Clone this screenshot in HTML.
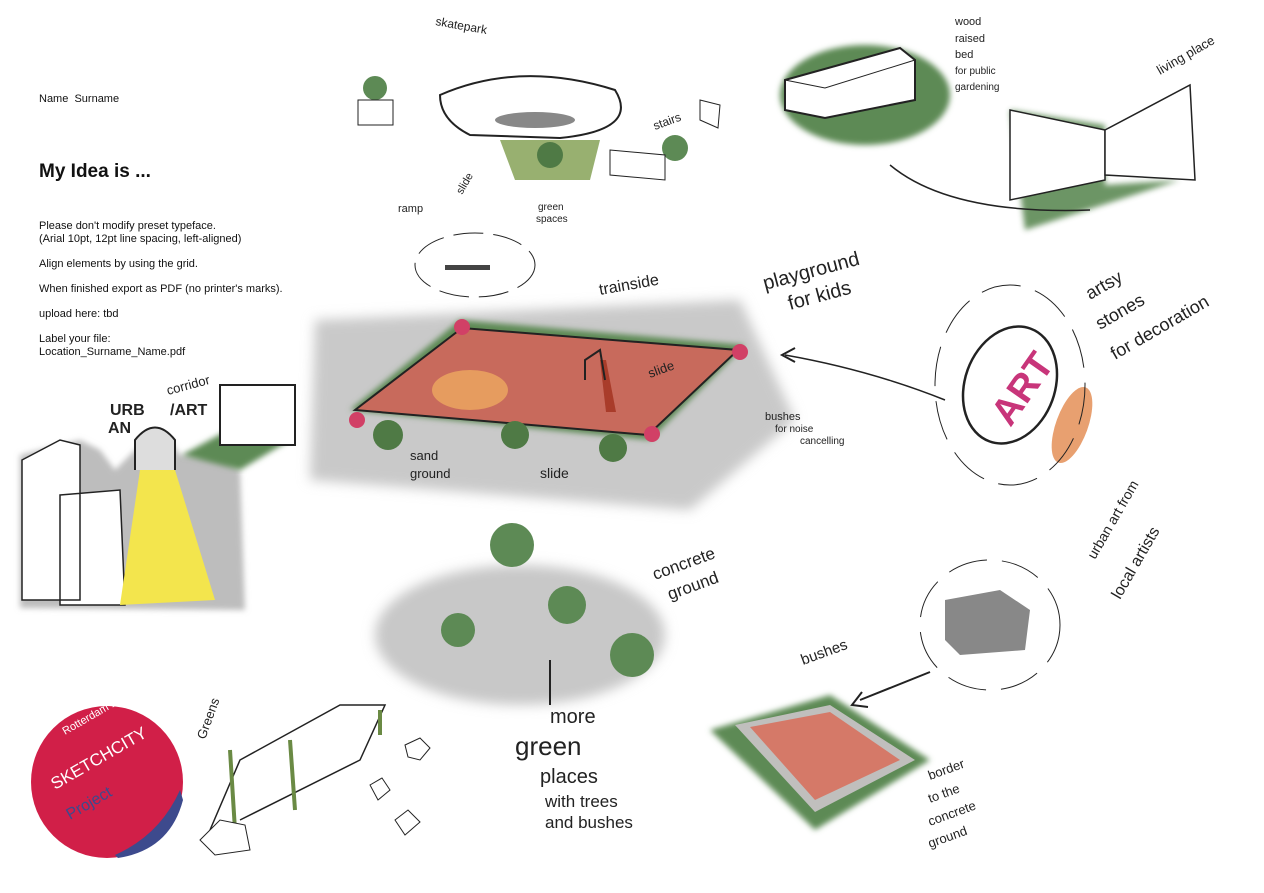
<!DOCTYPE html>
<html><head><meta charset="utf-8"><style>
body{margin:0;background:#fff;width:1264px;height:893px;overflow:hidden;font-family:"Liberation Sans",Arial,sans-serif}
.t{position:absolute;left:39px;font-size:11px;line-height:13px;color:#111}
svg{position:absolute;left:0;top:0}
svg text{font-family:"Liberation Sans",sans-serif;fill:#222}
</style></head><body>
<svg width="1264" height="893" viewBox="0 0 1264 893">
<defs>
<filter id="b"><feGaussianBlur stdDeviation="6"/></filter>
<filter id="b2"><feGaussianBlur stdDeviation="3"/></filter>
</defs>
<!-- concrete main -->
<path d="M315 320 L740 300 L795 420 L690 510 L310 480 Z" fill="#c9c9c9" filter="url(#b)"/>
<path d="M350 410 L460 320 L745 345 L650 440 Z" fill="#5d8a55" filter="url(#b2)"/>
<path d="M355 410 L462 328 L738 350 L648 435 Z" fill="#c86a5c" stroke="#222" stroke-width="2"/>
<ellipse cx="470" cy="390" rx="38" ry="20" fill="#e69c5f"/>
<path d="M600 360 L606 412 L616 412 L606 360Z" fill="#a93c2a"/>
<path d="M585 380 L585 360 L600 350 L605 380" fill="none" stroke="#222" stroke-width="2"/>
<circle cx="462" cy="327" r="8" fill="#d14066"/><circle cx="740" cy="352" r="8" fill="#d14066"/>
<circle cx="652" cy="434" r="8" fill="#d14066"/><circle cx="357" cy="420" r="8" fill="#d14066"/>
<g fill="#4f7a45"><circle cx="388" cy="435" r="15"/><circle cx="515" cy="435" r="14"/><circle cx="613" cy="448" r="14"/></g>
<!-- lower grey -->
<ellipse cx="520" cy="635" rx="145" ry="70" fill="#c8c8c8" filter="url(#b)"/>
<g fill="#5d8a55"><circle cx="512" cy="545" r="22"/><circle cx="458" cy="630" r="17"/><circle cx="567" cy="605" r="19"/><circle cx="632" cy="655" r="22"/></g>
<!-- left street -->
<path d="M20 455 L80 440 L100 450 L115 470 L135 450 L170 440 L180 455 L220 455 L240 470 L245 610 L20 608 Z" fill="#bdbdbd" filter="url(#b2)"/>
<path d="M22 460 L60 440 L80 445 L80 600 L22 600Z M60 495 L120 490 L125 605 L60 605Z" fill="#fff" stroke="#222" stroke-width="1.5"/>
<path d="M140 470 L175 470 L215 600 L120 605 Z" fill="#f3e54d"/>
<path d="M182 455 L228 430 L290 440 L240 470Z" fill="#5d8a55" filter="url(#b2)"/>
<rect x="220" y="385" width="75" height="60" fill="#fff" stroke="#222" stroke-width="2"/>
<path d="M135 470 L135 440 Q155 415 175 440 L175 470" fill="#ddd" stroke="#222" stroke-width="2"/>
<text x="110" y="415" font-size="16" font-weight="bold">URB</text><text x="108" y="433" font-size="16" font-weight="bold">AN</text>
<text x="170" y="415" font-size="16" font-weight="bold">/ART</text>
<text x="168" y="395" font-size="13" transform="rotate(-15 168 395)">corridor</text>
<!-- skatepark -->
<path d="M440 95 Q520 60 615 90 Q640 130 560 138 L470 135 Q440 120 440 95Z" fill="#fff" stroke="#222" stroke-width="2"/>
<ellipse cx="535" cy="120" rx="40" ry="8" fill="#888"/>
<path d="M500 140 L600 140 L590 180 L515 180Z" fill="#98b070"/>
<circle cx="550" cy="155" r="13" fill="#4f7a45"/>
<circle cx="375" cy="88" r="12" fill="#5d8a55"/><circle cx="675" cy="148" r="13" fill="#5d8a55"/>
<rect x="358" y="100" width="35" height="25" fill="#fff" stroke="#222"/>
<path d="M610 150 L665 155 L665 180 L610 175Z" fill="#fff" stroke="#222"/>
<path d="M700 100 L720 105 L718 128 L700 120Z" fill="#fff" stroke="#222"/>
<ellipse cx="475" cy="265" rx="60" ry="32" fill="none" stroke="#222" stroke-dasharray="30 10"/>
<rect x="445" y="265" width="45" height="5" fill="#444"/>
<text x="435" y="25" font-size="12" transform="rotate(10 435 25)">skatepark</text>
<text x="398" y="212" font-size="11">ramp</text><text x="462" y="195" font-size="11" transform="rotate(-60 462 195)">slide</text>
<text x="538" y="210" font-size="10">green</text><text x="536" y="222" font-size="10">spaces</text>
<text x="655" y="130" font-size="12" transform="rotate(-20 655 130)">stairs</text>
<!-- wood bed -->
<ellipse cx="865" cy="95" rx="85" ry="50" fill="#5d8a55" filter="url(#b2)"/>
<path d="M785 80 L900 48 L915 60 L915 100 L825 118 L785 110Z" fill="#fff" stroke="#222" stroke-width="2"/>
<path d="M785 80 L825 88 L915 60" fill="none" stroke="#222"/>
<text x="955" y="25" font-size="11">wood</text><text x="955" y="42" font-size="11">raised</text><text x="955" y="58" font-size="11">bed</text><text x="955" y="74" font-size="10">for public</text><text x="955" y="90" font-size="10">gardening</text>
<!-- living place -->
<path d="M1010 110 L1105 125 L1105 185 L1180 180 L1025 230Z" fill="#5d8a55" filter="url(#b2)" opacity=".9"/>
<path d="M1010 110 L1105 130 L1105 180 L1010 200Z" fill="#fff" stroke="#222" stroke-width="1.5"/>
<path d="M1105 130 L1190 85 L1195 180 L1105 175Z" fill="#fff" stroke="#222" stroke-width="1.5"/>
<text x="1160" y="75" font-size="13" transform="rotate(-30 1160 75)">living place</text>
<path d="M890 165 Q950 215 1090 210" fill="none" stroke="#222" stroke-width="1.5"/>
<!-- ART -->
<ellipse cx="1010" cy="385" rx="45" ry="60" fill="#fff" stroke="#222" stroke-width="2.5" transform="rotate(20 1010 385)"/>
<text x="975" y="410" font-size="38" font-weight="bold" fill="#c8357a" transform="rotate(-55 1010 385)" style="fill:#c8357a">ART</text>
<ellipse cx="1072" cy="425" rx="16" ry="40" fill="#e8a070" transform="rotate(20 1072 425)"/>
<ellipse cx="1010" cy="385" rx="75" ry="100" fill="none" stroke="#222" stroke-dasharray="40 15"/>
<text x="1090" y="300" font-size="18" transform="rotate(-30 1090 300)">artsy</text>
<text x="1100" y="330" font-size="18" transform="rotate(-30 1100 330)">stones</text>
<text x="1115" y="360" font-size="18" transform="rotate(-30 1115 360)">for decoration</text>
<path d="M945 400 Q870 370 785 355" fill="none" stroke="#222" stroke-width="1.5"/><path d="M795 348 L782 355 L795 362" fill="none" stroke="#222" stroke-width="2"/>
<!-- small ART box -->
<ellipse cx="990" cy="625" rx="70" ry="65" fill="none" stroke="#222" stroke-dasharray="40 15"/>
<path d="M945 600 L1000 590 L1030 610 L1025 650 L960 655 L945 640Z" fill="#888"/>
<text x="1095" y="560" font-size="14" transform="rotate(-60 1095 560)">urban art from</text>
<text x="1120" y="600" font-size="16" transform="rotate(-60 1120 600)">local artists</text>
<!-- bushes field -->
<path d="M710 730 L830 695 L930 760 L815 830Z" fill="#5d8a55" filter="url(#b2)"/>
<path d="M735 725 L830 705 L915 760 L815 812Z" fill="#c0bfbd"/>
<path d="M750 727 L830 712 L900 760 L815 800Z" fill="#d57968"/>
<path d="M930 672 L860 700" stroke="#222" stroke-width="2"/><path d="M862 692 L852 705 L868 707" fill="none" stroke="#222" stroke-width="2"/>
<text x="803" y="665" font-size="15" transform="rotate(-20 803 665)">bushes</text>
<text x="930" y="780" font-size="13" transform="rotate(-20 930 780)">border</text>
<text x="930" y="803" font-size="13" transform="rotate(-20 930 803)">to the</text>
<text x="930" y="826" font-size="13" transform="rotate(-20 930 826)">concrete</text>
<text x="930" y="848" font-size="13" transform="rotate(-20 930 848)">ground</text>
<!-- labels -->
<text x="600" y="295" font-size="16" transform="rotate(-10 600 295)">trainside</text>
<text x="765" y="290" font-size="20" transform="rotate(-15 765 290)">playground</text>
<text x="790" y="310" font-size="20" transform="rotate(-15 790 310)">for kids</text>
<text x="650" y="378" font-size="13" transform="rotate(-20 650 378)">slide</text>
<text x="765" y="420" font-size="11">bushes</text><text x="775" y="432" font-size="10">for noise</text><text x="800" y="444" font-size="10">cancelling</text>
<text x="410" y="460" font-size="13">sand</text><text x="410" y="478" font-size="13">ground</text>
<text x="540" y="478" font-size="14">slide</text>
<text x="655" y="580" font-size="17" transform="rotate(-20 655 580)">concrete</text>
<text x="670" y="600" font-size="17" transform="rotate(-20 670 600)">ground</text>
<text x="550" y="723" font-size="20">more</text><text x="515" y="755" font-size="26">green</text>
<text x="540" y="783" font-size="20">places</text><text x="545" y="807" font-size="17">with trees</text><text x="545" y="828" font-size="17">and bushes</text>
<path d="M550 660 L550 705" stroke="#222" stroke-width="2"/>
<!-- greens pergola -->
<path d="M210 830 L240 760 L340 705 L385 705 L360 760 L240 820" fill="none" stroke="#222" stroke-width="1.5"/>
<path d="M230 750 L235 830 M290 740 L295 810 M380 710 L380 735" stroke="#6a8a44" stroke-width="4"/>
<path d="M200 840 L220 820 L245 825 L250 850 L215 855Z" fill="#fff" stroke="#222"/>
<text x="205" y="740" font-size="13" transform="rotate(-70 205 740)">Greens</text>
<path d="M405 745 L420 738 L430 748 L420 760 L408 757Z M370 785 L382 778 L390 790 L378 800Z M395 820 L408 810 L420 822 L405 835Z" fill="#fff" stroke="#222"/>
<!-- sticker -->
<circle cx="107" cy="782" r="76" fill="#d11f48"/>
<path d="M115 855 Q160 835 180 790 L183 800 Q170 850 118 858Z" fill="#3d4a8d"/>
<text x="55" y="790" font-size="17" fill="#fff" style="fill:#fff" transform="rotate(-30 55 790)">SKETCHCITY</text>
<text x="70" y="820" font-size="16" style="fill:#3d4a8d" transform="rotate(-30 70 820)">Project</text>
<text x="65" y="735" font-size="11" style="fill:#fff" transform="rotate(-30 65 735)">Rotterdam 15.-19.4.2024</text>
</svg>
<div class="t" style="top:93px">Name&nbsp; Surname</div>
<div class="t" style="top:161px;font-size:19px;line-height:22px;font-weight:bold">My Idea is ...</div>
<div class="t" style="top:220px">Please don't modify preset typeface.<br>(Arial 10pt, 12pt line spacing, left-aligned)</div>
<div class="t" style="top:258px">Align elements by using the grid.</div>
<div class="t" style="top:283px">When finished export as PDF (no printer's marks).</div>
<div class="t" style="top:308px">upload here: tbd</div>
<div class="t" style="top:333px">Label your file:<br>Location_Surname_Name.pdf</div>
</body></html>
